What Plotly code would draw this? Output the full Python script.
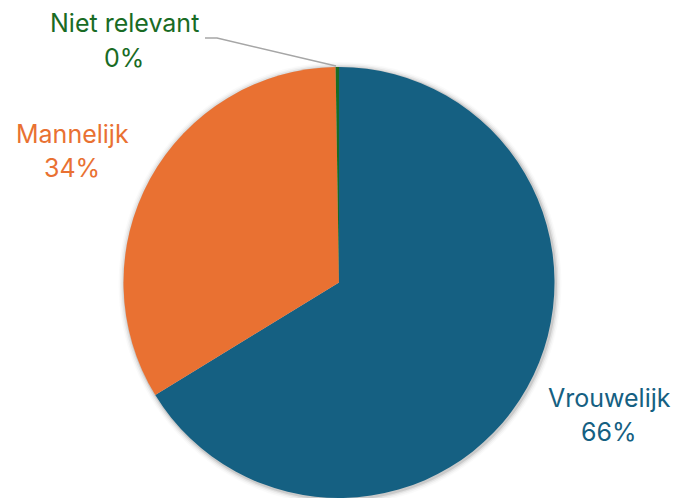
import plotly.graph_objects as go

# Respondents by gender
categories = ["Vrouwelijk", "Mannelijk", "Niet relevant"]
counts = [265, 134, 1]
colors = ["#156082", "#E97132", "#196B24"]

W, H = 676, 498
total = sum(counts)
pcts = [round(c / total * 100) for c in counts]

fig = go.Figure()
fig.add_trace(go.Pie(
    labels=categories,
    values=counts,
    sort=False,
    direction="clockwise",
    rotation=0,
    marker=dict(colors=colors, line=dict(width=0)),
    textinfo="none",
    hoverinfo="label+percent",
    showlegend=False,
    domain=dict(x=[(339 - 216) / W, (339 + 216) / W], y=[0, 1 - (283 - 216) / H]),
))

# soft shadow ring around the pie
cx, cy, r = 339, 282.5, 216
for i, op in enumerate([0.10, 0.06, 0.035, 0.02]):
    rr = r + 1 + i * 1.5
    fig.add_shape(
        type="circle", xref="paper", yref="paper", layer="below",
        x0=(cx - rr + 1) / W, x1=(cx + rr + 1) / W,
        y0=1 - (cy + rr + 1) / H, y1=1 - (cy - rr + 1) / H,
        fillcolor=f"rgba(0,0,0,{op})", line=dict(width=0),
    )

# leader line for the tiny slice
fig.add_shape(
    type="path", xref="paper", yref="paper",
    path=f"M {205/W},{1-38/H} L {217/W},{1-38/H} L {336/W},{1-66/H}",
    line=dict(color="#A6A6A6", width=1.5),
)

# label name and percentage on two lines (name y, percent y)
label_pos = [(609, 398, 432), (72, 134, 168), (124, 23, 58)]
for name, p, col, (x, y1, y2) in zip(categories, pcts, colors, label_pos):
    for txt, y in ((name, y1), (f"{p}%", y2)):
        fig.add_annotation(
            x=x / W, y=1 - y / H, xref="paper", yref="paper",
            text=txt, showarrow=False,
            font=dict(family="Inter", size=25, color=col),
            xanchor="center", yanchor="middle",
        )

fig.update_layout(
    width=W, height=H,
    margin=dict(l=0, r=0, t=0, b=0),
    paper_bgcolor="white", plot_bgcolor="white",
)
fig.write_html("out.html")
